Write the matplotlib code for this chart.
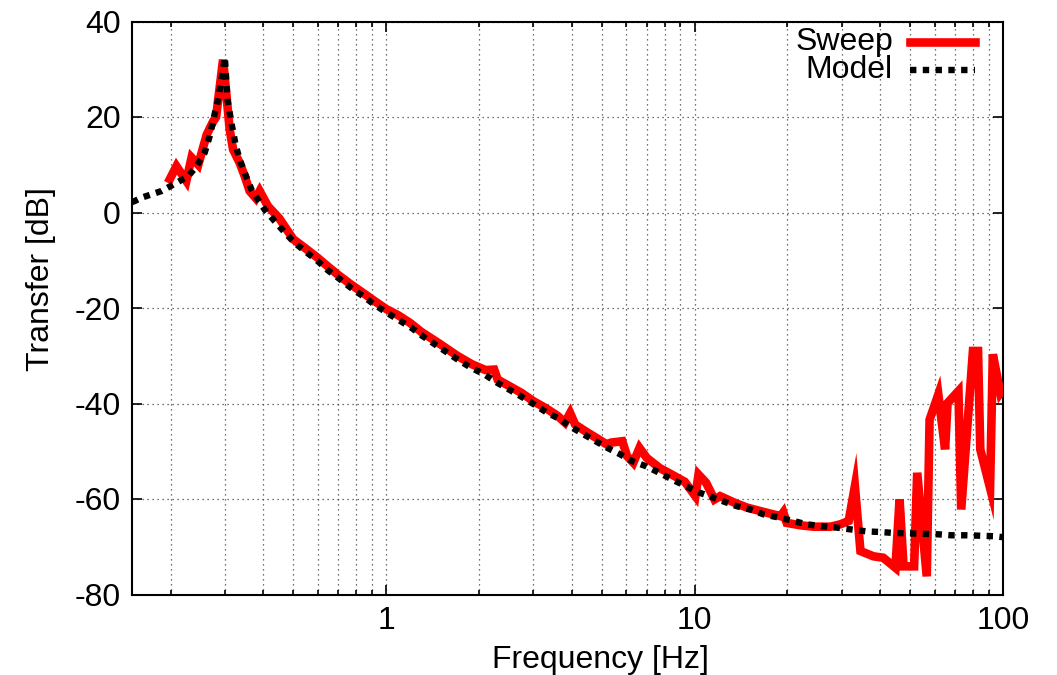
import matplotlib
matplotlib.use("Agg")
import matplotlib.pyplot as plt
from matplotlib.ticker import FixedLocator, NullFormatter

plt.rcParams['font.family'] = ['Liberation Sans', 'DejaVu Sans']

# Sweep (measured) -- frequency [Hz], transfer [dB]
sweep_f = [0.199, 0.209, 0.225, 0.234, 0.246, 0.262, 0.275, 0.281, 0.296,
           0.311, 0.319, 0.335, 0.348, 0.361, 0.378, 0.389, 0.414, 0.45,
           0.5, 0.55, 0.6, 0.65, 0.7, 0.77, 0.84, 0.92, 1.0, 1.1, 1.2,
           1.3, 1.5, 1.7, 1.9, 2.1, 2.24, 2.3, 2.5, 2.75, 3.0, 3.3, 3.6,
           3.8, 3.95, 4.1, 4.4, 4.8, 5.2, 5.35, 5.83, 6.04, 6.33, 6.63,
           7.0, 7.7, 8.5, 9.3, 10.06, 10.3, 10.9, 11.6, 12.1, 13.5, 14.8,
           16.5, 19.0, 19.4, 19.9, 22.0, 24.3, 27.6, 29.7, 31.6, 33.1,
           34.5, 38.0, 40.9, 44.8, 46.2, 47.6, 51.5, 52.7, 56.6, 57.8,
           61.7, 64.9, 66.1, 71.7, 73.2, 79.9, 83.0, 84.4, 90.8, 92.7,
           98.0, 100.0]
sweep_db = [7.0, 9.7, 6.6, 11.5, 10.0, 16.3, 19.1, 20.0, 32.0,
            17.4, 13.2, 10.4, 7.6, 4.5, 3.0, 4.5, 1.3, -1.2,
            -5.6, -7.6, -9.5, -11.4, -13.1, -15.1, -16.8, -18.6, -20.2, -21.6, -23.2,
            -25.0, -27.6, -30.0, -31.8, -33.0, -32.9, -35.0, -36.3, -37.8, -39.5, -41.0, -42.6,
            -44.0, -42.0, -44.4, -45.7, -47.2, -48.6, -48.2, -47.9, -51.0, -52.4, -49.3,
            -51.4, -53.5, -55.0, -56.4, -59.4, -54.9, -56.6, -60.1, -59.4, -60.8, -61.8,
            -62.6, -63.6, -62.8, -65.0, -65.5, -65.8, -65.8, -65.3, -64.6, -57.3,
            -70.9, -72.0, -72.3, -74.4, -60.1, -74.1, -74.1, -54.5, -76.2, -43.4,
            -38.1, -49.6, -39.9, -37.4, -62.2, -29.0, -29.0, -49.6, -57.7, -29.7,
            -37.8, -37.0]

# Model curve
model_f = [0.15, 0.153, 0.161, 0.187, 0.209, 0.228, 0.243, 0.258, 0.268,
           0.277, 0.285, 0.292, 0.300, 0.306, 0.315, 0.325, 0.335, 0.348,
           0.366, 0.384, 0.404, 0.435, 0.468, 0.505, 0.551, 0.601, 0.647,
           0.706, 0.770, 0.841, 0.917, 1.0, 1.104, 1.205, 1.314, 1.706,
           1.884, 2.082, 2.298, 2.508, 2.734, 3.02, 3.30, 3.64, 3.97, 4.38,
           4.78, 5.22, 5.76, 6.29, 6.94, 7.68, 8.46, 9.35, 10.3, 11.27,
           12.4, 13.7, 15.2, 16.7, 18.8, 20.9, 23.1, 25.9, 29.0, 32.4,
           36.3, 39.8, 44.0, 49.4, 55.3, 62.0, 68.0, 76.0, 85.1, 93.9, 100.0]
model_db = [2.2, 2.4, 3.1, 4.5, 6.2, 7.6, 9.7, 12.5, 16.0,
            20.2, 23.6, 27.5, 32.5, 23.6, 18.8, 14.2, 11.1, 8.3,
            4.8, 2.7, 0.6, -1.8, -4.1, -6.35, -8.3, -10.2, -12.1,
            -13.9, -15.8, -17.5, -19.3, -20.9, -22.6, -24.1, -25.9, -30.8,
            -32.5, -33.9, -35.7, -37.1, -38.5, -40.2, -41.8, -43.2, -44.9, -46.5,
            -47.9, -49.3, -50.7, -52.1, -53.1, -54.5, -55.9, -57.3, -58.6, -59.5,
            -60.5, -61.5, -62.2, -63.2, -63.9, -64.6, -65.3, -65.7, -66.0, -66.4,
            -66.8, -66.9, -67.1, -67.2, -67.3, -67.4, -67.6, -67.6, -67.7, -67.8, -68.0]

x_major = [1, 10, 100]
x_major_labels = ['1', '10', '100']
x_minor = [0.2, 0.3, 0.4, 0.5, 0.6, 0.7, 0.8, 0.9,
           2, 3, 4, 5, 6, 7, 8, 9,
           20, 30, 40, 50, 60, 70, 80, 90]
y_ticks = [-80, -60, -40, -20, 0, 20, 40]

SWEEP_COLOR = '#ff0000'
MODEL_COLOR = '#000000'
FS = 23
SWEEP_LW = 6.2
MODEL_LW = 4.6
MODEL_LS = (0, (1.0, 1.0))

fig = plt.figure(figsize=(10.57, 6.75), dpi=100)
ax = fig.add_axes([132 / 1057, 1 - 594.5 / 675, 871 / 1057, 573 / 675])

ax.plot(sweep_f, sweep_db, color=SWEEP_COLOR, lw=SWEEP_LW, solid_joinstyle='miter',
        zorder=3)
ax.plot(model_f, model_db, color=MODEL_COLOR, lw=MODEL_LW, linestyle=MODEL_LS,
        dash_capstyle='butt', zorder=4)

ax.set_xscale('log')
ax.set_xlim(0.15, 100)
ax.set_ylim(-80, 40)

ax.xaxis.set_major_locator(FixedLocator(x_major))
ax.set_xticklabels(x_major_labels)
ax.xaxis.set_minor_locator(FixedLocator(x_minor))
ax.xaxis.set_minor_formatter(NullFormatter())
ax.set_yticks(y_ticks)
ax.set_yticklabels([str(v) for v in y_ticks])

grid_kw = dict(color='#444444', linestyle=(0, (1, 3)), linewidth=0.9)
ax.grid(True, which='major', axis='both', **grid_kw)
ax.grid(True, which='minor', axis='x', **grid_kw)
ax.set_axisbelow(True)

ax.tick_params(which='both', direction='in', top=True, right=True,
               labelsize=FS, width=1.2)
ax.tick_params(which='major', length=7, pad=8)
ax.tick_params(which='minor', length=3.5)
for s in ax.spines.values():
    s.set_linewidth(1.5)

ax.set_xlabel('Frequency [Hz]', fontsize=FS)
ax.set_ylabel('Transfer [dB]', fontsize=FS)
ax.xaxis.set_label_coords((600 - 132) / 871, -(645 - 594.5) / 573)
ax.yaxis.set_label_coords((56 - 132) / 871, 1 - (279 - 21.5) / 573)

# legend in gnuplot style: right-aligned text followed by sample
leg_items = [('Sweep', dict(color=SWEEP_COLOR, lw=SWEEP_LW)),
             ('Model', dict(color=MODEL_COLOR, lw=MODEL_LW, linestyle=MODEL_LS,
                            dash_capstyle='butt'))]
leg_y = [1 - (42 - 21.5) / 573, 1 - (70 - 21.5) / 573]
for (name, kw), yy in zip(leg_items, leg_y):
    ax.text((893 - 132) / 871, yy, name, transform=ax.transAxes, ha='right',
            va='center', fontsize=FS, zorder=6)
    ax.plot([(910 - 132) / 871, (975 - 132) / 871], [yy, yy],
            transform=ax.transAxes, clip_on=False, zorder=6, **kw)

fig.savefig('out.png', dpi=100)
